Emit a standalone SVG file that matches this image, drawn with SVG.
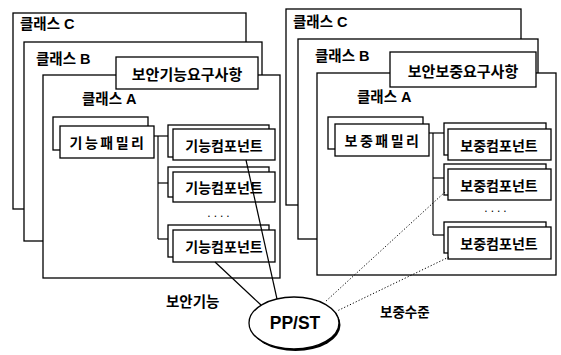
<svg xmlns="http://www.w3.org/2000/svg" width="561" height="355" viewBox="0 0 561 355">
<style>
.bx{fill:#fff;stroke:#000;stroke-width:1.3}
.t{font-family:"Liberation Sans","Noto Sans CJK KR",sans-serif;fill:#000;font-weight:bold}
.cls{font-size:14.5px}
.req{font-size:15px;text-anchor:middle}
.cmp{font-size:14px;text-anchor:middle}
.fam{font-size:14px;text-anchor:middle;letter-spacing:2.5px}
.lbl{font-size:14px}
.ln{fill:none;stroke:#000;stroke-width:1.2}
.dt{fill:none;stroke:#000;stroke-width:1;stroke-dasharray:1.2 2}
.dots{font-size:12px;text-anchor:middle;letter-spacing:3px;font-weight:normal}
</style>
<rect width="561" height="355" fill="#fff"/>

<!-- Left panel -->
<g id="left-classC"><rect class="bx" x="13" y="13" width="233" height="196"/><text class="t cls" x="20" y="29">클래스 C</text></g>
<g id="left-classB"><rect class="bx" x="24" y="42" width="238" height="199"/><text class="t cls" x="36" y="64">클래스 B</text></g>
<g id="left-classA"><rect class="bx" x="43" y="75" width="237" height="203"/><text class="t cls" x="82" y="104">클래스 A</text></g>
<g id="left-req"><rect class="bx" x="116" y="57" width="142" height="32"/><text class="t req" x="187" y="80">보안기능요구사항</text></g>
<g id="left-family"><rect class="bx" x="53" y="117" width="95" height="33"/><rect class="bx" x="60" y="126" width="94" height="32"/><text class="t fam" x="108" y="148">기능패밀리</text></g>
<g id="left-comp1"><rect class="bx" x="168" y="125" width="101" height="32"/><rect class="bx" x="173" y="129" width="102" height="31"/><text class="t cmp" x="224" y="151">기능컴포넌트</text></g>
<g id="left-comp2"><rect class="bx" x="168" y="167" width="101" height="30"/><rect class="bx" x="173" y="172" width="102" height="30"/><text class="t cmp" x="224" y="193">기능컴포넌트</text></g>
<g id="left-dots"><text class="t dots" x="220" y="217">....</text></g>
<g id="left-comp3"><rect class="bx" x="168" y="225" width="101" height="32"/><rect class="bx" x="173" y="230" width="102" height="32"/><text class="t cmp" x="224" y="252">기능컴포넌트</text></g>

<!-- Right panel -->
<g id="right-classC"><rect class="bx" x="286" y="9" width="235" height="196"/><text class="t cls" x="293" y="27">클래스 C</text></g>
<g id="right-classB"><rect class="bx" x="298" y="39" width="240" height="200"/><text class="t cls" x="315" y="61">클래스 B</text></g>
<g id="right-classA"><rect class="bx" x="317" y="73" width="239" height="202"/><text class="t cls" x="357" y="102">클래스 A</text></g>
<g id="right-req"><rect class="bx" x="390" y="52" width="146" height="35"/><text class="t req" x="463" y="77">보안보중요구사항</text></g>
<g id="right-family"><rect class="bx" x="328" y="117" width="95" height="32"/><rect class="bx" x="335" y="124" width="94" height="32"/><text class="t fam" x="383" y="146">보중패밀리</text></g>
<g id="right-comp1"><rect class="bx" x="444" y="123" width="102" height="32"/><rect class="bx" x="448" y="129" width="103" height="31"/><text class="t cmp" x="499" y="151">보중컴포넌트</text></g>
<g id="right-comp2"><rect class="bx" x="444" y="164" width="102" height="31"/><rect class="bx" x="448" y="169" width="103" height="31"/><text class="t cmp" x="499" y="191">보중컴포넌트</text></g>
<g id="right-dots"><text class="t dots" x="497" y="212">....</text></g>
<g id="right-comp3"><rect class="bx" x="444" y="222" width="102" height="31"/><rect class="bx" x="448" y="227" width="103" height="32"/><text class="t cmp" x="499" y="249">보중컴포넌트</text></g>

<!-- PP/ST -->
<g id="ppst">
<ellipse cx="295.5" cy="325" rx="45" ry="26" fill="#000"/>
<ellipse cx="294" cy="323" rx="45" ry="26" fill="#fff" stroke="#000" stroke-width="1.3"/>
<text class="t" x="295" y="329" font-size="17.5" text-anchor="middle">PP/ST</text>
</g>

<g id="labels">
<text class="t lbl" x="166" y="307" style="font-size:14.5px">보안기능</text>
<text class="t lbl" x="380" y="317" style="font-size:13.5px">보중수준</text>
</g>

<g id="connectors">
<line class="ln" x1="154" y1="136" x2="158" y2="136"/>
<line class="ln" x1="158" y1="136" x2="158" y2="239"/>
<line class="ln" x1="158" y1="136" x2="168" y2="136"/>
<line class="ln" x1="158" y1="183" x2="168" y2="183"/>
<line class="ln" x1="158" y1="239" x2="168" y2="239"/>
<line class="ln" x1="429" y1="133" x2="444" y2="133"/>
<line class="ln" x1="433" y1="133" x2="433" y2="235"/>
<line class="ln" x1="433" y1="178" x2="444" y2="178"/>
<line class="ln" x1="433" y1="235" x2="444" y2="235"/>
<line class="ln" x1="246" y1="160" x2="277" y2="299"/>
<line class="ln" x1="215" y1="262" x2="261" y2="305"/>
<line class="dt" x1="445" y1="192" x2="325" y2="302"/>
<line class="dt" x1="449" y1="257" x2="337" y2="311"/>
</g>
</svg>
